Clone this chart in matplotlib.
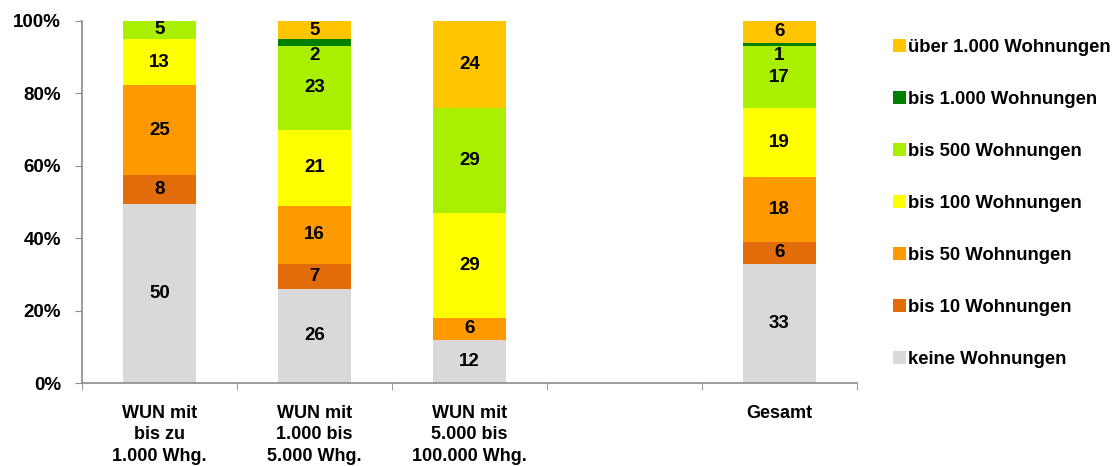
import matplotlib
matplotlib.use("Agg")
import matplotlib.pyplot as plt
import numpy as np

plt.rcParams['font.family'] = ['Liberation Sans', 'DejaVu Sans']
plt.rcParams['font.weight'] = 'bold'

# categories (slot 3 is an empty gap in the original)
kategorien = ["WUN mit\nbis zu\n1.000 Whg.", "WUN mit\n1.000 bis\n5.000 Whg.",
              "WUN mit\n5.000 bis\n100.000 Whg.", "Gesamt"]
positionen = [0, 1, 2, 4]

serien = ["keine Wohnungen", "bis 10 Wohnungen", "bis 50 Wohnungen", "bis 100 Wohnungen",
          "bis 500 Wohnungen", "bis 1.000 Wohnungen", "über 1.000 Wohnungen"]
keine = [50, 26, 12, 33]
bis10 = [8, 7, 0, 6]
bis50 = [25, 16, 6, 18]
bis100 = [13, 21, 29, 19]
bis500 = [5, 23, 29, 17]
bis1000 = [0, 2, 0, 1]
ueber1000 = [0, 5, 24, 6]
farben = ["#D9D9D9", "#E26B0A", "#FF9900", "#FFFF00", "#AAEE00", "#008000", "#FFC600"]

werte = np.array([keine, bis10, bis50, bis100, bis500, bis1000, ueber1000], dtype=float)
summe = werte.sum(axis=0)
anteile = werte / summe * 100

fig = plt.figure(figsize=(11.17, 4.66), dpi=100)
ax = fig.add_axes([0.0734, 0.178, 0.6936, 0.777])

unten = np.zeros(len(positionen))
handles = []
for i in range(len(serien)):
    b = ax.bar(positionen, anteile[i], bottom=unten, width=0.47, color=farben[i],
               label=serien[i], zorder=2)
    handles.append(b)
    for j, x in enumerate(positionen):
        if werte[i, j] <= 0:
            continue
        if anteile[i, j] < 3:
            # very thin segment: label sits just below it
            ax.text(x, unten[j] - 0.3, "%d" % werte[i, j], ha="center", va="top",
                    fontsize=13.5, fontweight="bold", color="black", zorder=3)
        else:
            ax.text(x, unten[j] + anteile[i, j] / 2, "%d" % werte[i, j], ha="center", va="center",
                    fontsize=13.5, fontweight="bold", color="black", zorder=3)
    unten = unten + anteile[i]

ax.set_xlim(-0.5, 4.5)
ax.set_ylim(0, 100)
ax.set_yticks(range(0, 101, 20))
ax.set_yticklabels(["%d%%" % v for v in range(0, 101, 20)], fontsize=13.5, fontweight="bold")
ax.set_xticks(positionen)
ax.set_xticklabels(kategorien, fontsize=13, fontweight="bold", linespacing=1.32)
ax.set_xticks(np.arange(-0.5, 4.6, 1), minor=True)
ax.tick_params(axis="x", which="major", length=0, pad=16)
ax.tick_params(axis="x", which="minor", length=5, color="#8C8C8C", direction="out")
ax.tick_params(axis="y", length=5, color="#8C8C8C", direction="out", pad=10)
for s in ["top", "right"]:
    ax.spines[s].set_visible(False)
for s in ["left", "bottom"]:
    ax.spines[s].set_color("#8C8C8C")
    ax.spines[s].set_linewidth(1.2)

leg = fig.legend(handles[::-1], serien[::-1], loc="upper left", bbox_to_anchor=(0.785, 0.953),
                 frameon=False, prop={"size": 13.3, "weight": "bold"}, labelspacing=1.9,
                 handlelength=0.7, handleheight=0.7, handletextpad=0.1)

fig.savefig("out.png", dpi=100)
